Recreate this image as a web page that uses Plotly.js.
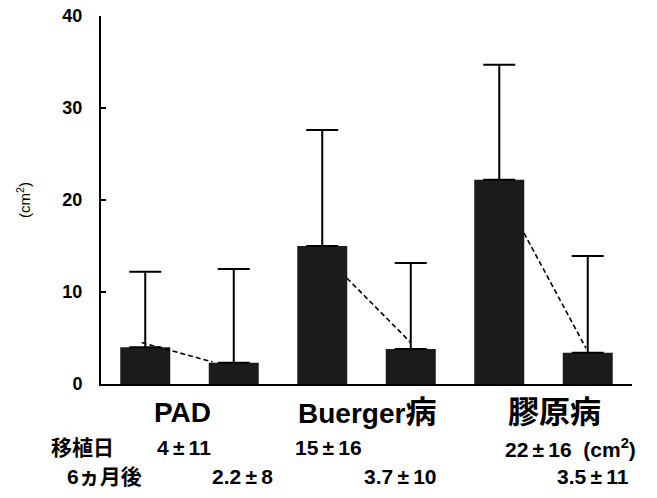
<!DOCTYPE html>
<html>
<head>
<meta charset="utf-8">
<script src="https://cdn.plot.ly/plotly-3.0.1.min.js"></script>
<style>
html,body{margin:0;padding:0;background:#fff;}
#chart{width:657px;height:498px;}
</style>
</head>
<body>
<div id="chart"></div>
<script>
// ---- data ----
const categories = ['PAD', 'Buerger病', '膠原病'];
const seriesNames = ['移植日', '6ヵ月後'];
// bar heights (cm2)
const baselineValues = [4.0, 15.0, 22.2];
const baselineErrPlus = [8.2, 12.6, 12.5];
const after6Values = [2.3, 3.8, 3.4];
const after6ErrPlus = [10.2, 9.35, 10.5];
// dashed connector end values (cm2)
const dashFromValues = [4.5, 11.5, 16.4];
const dashToValues = [2.4, 4.5, 3.9];
// summary text below the chart
const baselineMean = ['4', '15', '22'];
const baselineSD = ['11', '16', '16'];
const after6Mean = ['2.2', '3.7', '3.5'];
const after6SD = ['8', '10', '11'];
const yTickVals = [0, 10, 20, 30, 40];

// ---- drawing ----
const FONT = 'Liberation Sans, Arial, "Noto Sans CJK JP", sans-serif';
const barColor = '#1b1b1b';

function barTrace(name, vals, errs) {
  return {
    type: 'bar', name: name, x: categories, y: vals,
    marker: {color: barColor, line: {width: 0}},
    error_y: {type: 'data', symmetric: false, array: errs,
              arrayminus: vals.map(() => 0), color: '#000', thickness: 2, width: 16},
    hoverinfo: 'skip', showlegend: false
  };
}

const traces = [barTrace(seriesNames[0], baselineValues, baselineErrPlus),
                barTrace(seriesNames[1], after6Values, after6ErrPlus)];

(function addDashes() {
  const startOff = [-0.27, -0.11, -0.11];
  const endOff = [0.13, 0.25, 0.24];
  categories.forEach((c, i) => {
    traces.push({
      type: 'scatter', mode: 'lines', xaxis: 'x2', yaxis: 'y',
      x: [i + startOff[i], i + endOff[i]],
      y: [dashFromValues[i], dashToValues[i]],
      line: {color: '#000', width: 1.6, dash: '5px,3px'},
      hoverinfo: 'skip', showlegend: false
    });
  });
})();

const L = 101, R = 25, T = 16, B = 114;
const W = 657 - L - R, H = 498 - T - B;
const px = v => (v - L) / W;
const py = v => (498 - B - v) / H;

const annotations = [];
function addText(text, x, centerY, size, anchor) {
  annotations.push({xref: 'paper', yref: 'paper', x: px(x), y: py(centerY),
    xanchor: anchor || 'left', yanchor: 'middle', showarrow: false, text: text,
    font: {family: FONT, size: size, color: '#000', weight: 'bold'}});
}
// category labels (CJK glyphs drawn a bit larger, as in the original)
const catCenters = [182, 367, 554];
categories.forEach((c, i) => {
  const t = c.replace(/([\u3000-\u9fff]+)/g, '<span style="font-size:31px">$1</span>');
  addText(t, catCenters[i], 412, 28, 'center');
});
const row1Y = 448, row2Y = 476;
addText(seriesNames[0], 49, row1Y, 21);
addText(seriesNames[1], 65, row2Y, 21);
const row1Left = [155, 293, 503];
const row2Left = [210, 362, 555];
const pm = '\u2009±\u2009';
categories.forEach((c, i) => {
  let t1 = baselineMean[i] + pm + baselineSD[i];
  if (i === categories.length - 1) t1 += '  (cm<sup>2</sup>)';
  addText(t1, row1Left[i], row1Y, 21);
  addText(after6Mean[i] + pm + after6SD[i], row2Left[i], row2Y, 21);
});

const layout = {
  width: 657, height: 498,
  margin: {l: L, r: R, t: T, b: B},
  paper_bgcolor: '#fff', plot_bgcolor: '#fff',
  barmode: 'group', bargap: 0, bargroupgap: 0.435,
  showlegend: false,
  xaxis: {
    type: 'category', range: [-0.5, 2.5], fixedrange: true,
    showline: true, linecolor: '#000', linewidth: 2,
    showgrid: false, zeroline: false, ticks: '', showticklabels: false
  },
  xaxis2: {overlaying: 'x', range: [-0.5, 2.5], visible: false, fixedrange: true},
  yaxis: {
    range: [0, 40], fixedrange: true,
    tickvals: yTickVals, ticktext: yTickVals.map(String),
    showline: true, linecolor: '#000', linewidth: 2,
    showgrid: false, zeroline: false,
    ticks: 'inside', ticklen: 5, tickwidth: 2, tickcolor: '#000',
    ticklabelstandoff: 13,
    tickfont: {family: FONT, size: 18, color: '#000', weight: 'bold'},
    title: {text: '(cm<sup>2</sup>)', standoff: 28,
            font: {family: FONT, size: 15, color: '#000'}}
  },
  annotations: annotations
};

Plotly.newPlot('chart', traces, layout, {staticPlot: true, displayModeBar: false});
</script>
</body>
</html>
